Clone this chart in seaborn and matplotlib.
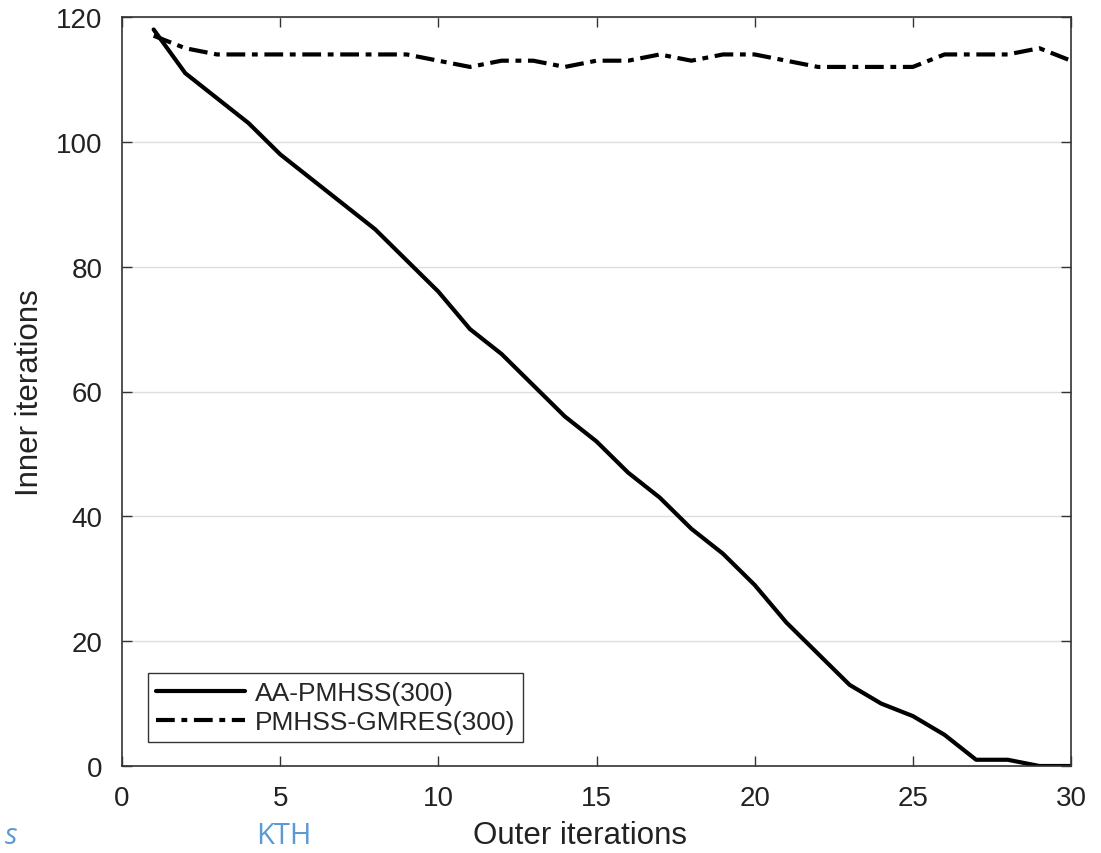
import numpy as np
import pandas as pd
import seaborn as sns
import matplotlib
matplotlib.use("Agg")
import matplotlib.pyplot as plt

outer = list(range(1, 31))
aa_pmhss = [118, 111, 107, 103, 98, 94, 90, 86, 81, 76, 70, 66, 61, 56, 52,
            47, 43, 38, 34, 29, 23, 18, 13, 10, 8, 5, 1, 1, 0, 0]
pmhss_gmres = [117, 115, 114, 114, 114, 114, 114, 114, 114, 113, 112, 113, 113, 112, 113,
               113, 114, 113, 114, 114, 113, 112, 112, 112, 112, 114, 114, 114, 115, 113]
labels = ["AA-PMHSS(300)", "PMHSS-GMRES(300)"]
xticks = [0, 5, 10, 15, 20, 25, 30]
yticks = [0, 20, 40, 60, 80, 100, 120]

sns.set_theme(style="white")
plt.rcParams['font.family'] = ['Liberation Sans', 'DejaVu Sans']

fig = plt.figure(figsize=(11.01, 8.54), dpi=100)
ax = fig.add_axes([122/1101, 1-767/854, (1071-122)/1101, (767-18)/854])

df1 = pd.DataFrame({"x": outer, "y": aa_pmhss})
df2 = pd.DataFrame({"x": outer, "y": pmhss_gmres})
sns.lineplot(data=df1, x="x", y="y", ax=ax, color="black", linewidth=3, label=labels[0])
sns.lineplot(data=df2, x="x", y="y", ax=ax, color="black", linewidth=3,
             linestyle=(0, (4.5, 1.6, 1.4, 1.6)), label=labels[1])

ax.set_xlim(0, 30)
ax.set_ylim(0, 120)
ax.set_xticks(xticks)
ax.set_yticks(yticks)
ax.yaxis.grid(True, color="#dddddd", linewidth=1)
ax.xaxis.grid(False)
ax.set_axisbelow(True)
for s in ax.spines.values():
    s.set_visible(True)
    s.set_color("#333333")
    s.set_linewidth(1.2)
ax.tick_params(axis="both", direction="in", length=7, width=1, colors="#333333",
               labelcolor="#222222", labelsize=20, top=True, right=True,
               bottom=True, left=True)
ax.tick_params(axis="x", pad=14)
ax.tick_params(axis="y", pad=14)
ax.set_xlabel("Outer iterations", fontsize=22.5, color="#222222")
ax.xaxis.set_label_coords(0.4826, -0.072)
ax.set_ylabel("Inner iterations", fontsize=22.5, color="#222222", labelpad=8)

leg = ax.legend(loc="lower left", bbox_to_anchor=(0.027, 0.032), fontsize=19,
                frameon=True, fancybox=False, edgecolor="#333333", framealpha=1,
                handlelength=3.4, handletextpad=0.35, borderpad=0.3, labelspacing=0.2,
                borderaxespad=0)
leg.get_frame().set_linewidth(1)

fig.text(5/1101, 1-844/854, "s", color="#5b9bd5", fontsize=21, style="italic",
         va="baseline", ha="left", family=["Open Sans", "DejaVu Sans"])
fig.text(256/1101, 1-844/854, "KTH", color="#5b9bd5", fontsize=21,
         va="baseline", ha="left", family=["Open Sans", "DejaVu Sans"])

fig.savefig("out.png", dpi=100)
